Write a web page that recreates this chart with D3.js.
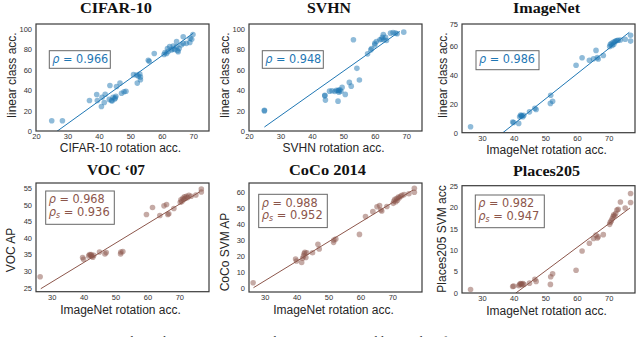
<!DOCTYPE html>
<html>
<head>
<meta charset="utf-8">
<script src="https://cdn.jsdelivr.net/npm/d3@7"></script>
<style>
	body { margin: 0; background: #fff; }
	svg { display: block; }
</style>
</head>
<body>
<svg id="fig" width="640" height="337"></svg>
<script>

// ---- data ----

// CIFAR-10: rotation acc. vs linear class acc.
var cifarRot = [25, 28.4, 37, 39.3, 39.5, 40.8, 41, 42, 41.7, 43.5, 43.3, 44, 44.5, 45, 45.4, 44.2, 45.2, 45.6,
	46.7, 47.2, 48, 48.6, 51, 52, 52.5, 53, 52.2, 53.2, 53.2, 55.7, 56, 57.6, 60.7, 61, 61.5, 61.8, 62.5, 63,
	63.6, 64.1, 64.7, 64.7, 65.2, 65.5, 66.2, 66.8, 66.8, 67.8, 68.9, 69, 69.5, 69.9, 62, 63.5, 65];
var cifarLin = [10, 10, 30, 35.8, 30, 24, 33, 36, 28, 44.7, 31, 30, 33, 31.5, 34, 29.5, 32.5, 43.7,
	47, 37, 38.5, 39, 55.3, 55, 54, 55.8, 47, 50.3, 53, 69.5, 68.5, 76, 75, 77, 76, 81, 82.8, 79.5,
	83.4, 80, 82.8, 87.7, 77.8, 81, 84.4, 86, 92.4, 86, 86.8, 91, 90, 94.7, 78, 80.5, 79];

// SVHN: rotation acc. vs linear class acc.
var svhnRot = [24.9, 24.9, 44.1, 44.1, 44.3, 45.6, 46.4, 47.3, 47.8, 48.3, 48.6, 48.9, 49.2, 48.5, 48.3, 49.6,
	50.6, 51.9, 52.5, 53.2, 54.3, 55.1, 57.7, 58.7, 59, 60, 60, 60.5, 61.6, 62.1, 62.4, 62.7, 62.9, 63.7,
	63.4, 65, 65.8, 66.6, 67.1, 69.2];
var svhnLin = [19.7, 20.3, 34.5, 35, 30.3, 39.1, 39.5, 38.8, 40, 39.5, 38, 40.5, 39, 40, 29.3, 42.8,
	35.9, 47.7, 44, 89.5, 61.5, 50, 75.7, 79.6, 81, 86, 84.5, 87.8, 89.5, 90, 92, 94.7, 89.5, 88.8,
	92, 96, 96.7, 96, 95.4, 97];

// ImageNet rotation acc. shared by the ImageNet panel and the bottom row
var imagenetRot = [26.4, 39.7, 40, 41.6, 41.9, 42.2, 42.4, 42.6, 42.9, 43.2, 45, 46.7, 47.1, 51.6, 51.7, 52.3,
	59.7, 61.6, 63.9, 65.2, 66, 66.4, 66.7, 68.3, 70.3, 70.5, 70.8, 71.1, 71.4, 71.6, 71.9, 72.2, 72.6,
	73, 73.7, 75.2, 76.9, 76.9];
var imagenetLin = [4.1, 7.4, 7, 6.4, 11, 12.2, 11.5, 11.8, 11, 12, 14.4, 16.8, 16, 20.2, 25.8, 21.7,
	46.5, 51.7, 50, 51, 56.8, 51.8, 50.8, 53.3, 59.5, 60.8, 61.5, 60.2, 62.3, 61, 62.8, 63.2, 63.6,
	63.8, 64, 64.5, 67.2, 63.2];
var vocAP = [28.3, 34.1, 33.6, 34.6, 35, 34.8, 35, 34.5, 34.2, 34.8, 35.8, 35.2, 35.6, 35.2, 35.8, 35.9,
	47.1, 49.2, 46.8, 49.7, 50.1, 47.1, 47.3, 48.9, 50.8, 51.5, 51, 52, 51.6, 52.4, 52, 52.6, 52.2,
	52.9, 52.6, 53, 54.8, 53.9];
var cocoAP = [3.1, 18, 16.8, 15.9, 18.5, 20, 21.5, 22.2, 19, 22, 22, 27.3, 24.3, 28.5, 30, 30.6,
	33.5, 44.7, 47.8, 50.9, 51.6, 48.8, 48.2, 51, 53, 54.5, 55.5, 54, 56, 55, 57, 56.5, 57.5,
	58, 58.5, 59, 62.5, 60];
var placesAcc = [0.8, 1.5, 1.6, 1.7, 2, 2.2, 2.1, 1.9, 2.2, 2, 2.3, 3.2, 2.7, 2, 3.8, 4.5,
	5.3, 9.8, 11.6, 12.7, 13.5, 12.8, 13.1, 13.6, 16, 16.5, 16.8, 17.3, 17.8, 18.2, 18, 18.5, 19.3,
	19.5, 21.2, 19.8, 23.2, 21.1];

// fitted lines, as two end points [x, y]
var cifarFit = [[25, -4], [70, 96]];
var svhnFit = [[24.9, 3.9], [67.9, 97.7]];
var imagenetFit = [[36.6, 0], [76.5, 69.3]];
var vocFit = [[26.6, 24.7], [76.5, 54]];
var cocoFit = [[26.5, 0], [76.5, 61.4]];
var placesFit = [[40.7, 0], [76.7, 19.8]];

// correlations printed in the boxes
var rho = [0.966, 0.948, 0.986, 0.968, 0.988, 0.982];
var rhoS = [null, null, null, 0.936, 0.952, 0.947];

// titles and axis labels
var titles = ["CIFAR-10", "SVHN", "ImageNet", "VOC \u201807", "CoCo 2014", "Places205"];
var xLabels = ["CIFAR-10 rotation acc.", "SVHN rotation acc.", "ImageNet rotation acc.",
	"ImageNet rotation acc.", "ImageNet rotation acc.", "ImageNet rotation acc."];
var yLabels = ["linear class acc.", "linear class acc.", "linear class acc.",
	"VOC AP", "CoCo SVM AP", "Places205 SVM acc"];

// tick values
var xTicksTop = [20, 30, 40, 50, 60, 70];
var xTicksImageNet = [30, 40, 50, 60, 70];
var yTicksClass = [0, 20, 40, 60, 80, 100];
var yTicksImageNet = [0, 20, 40, 60, 75];
var yTicksVoc = [25, 30, 35, 40, 45, 50, 55];
var yTicksCoco = [0, 10, 20, 30, 40, 50, 60];
var yTicksPlaces = [0, 5, 10, 15, 20, 25];

var caption = "Figure 2: Top row: Correlation between rotation prediction accuracy and linear classification accuracy on";

// ---- drawing ----

var blue = "#1f77b4", brown = "#8c564b";
var svg = d3.select("#fig");

function zip(xs, ys) {
	return xs.map(function(v, i) { return [v, ys[i]]; });
}

var panels = [
	{ xs: cifarRot, ys: cifarLin, fit: cifarFit, color: blue,
	  box: [36, 209, 24, 131], xd: [20, 75], yd: [0, 105], xt: xTicksTop, yt: yTicksClass,
	  titleX: 116, titleY: 13, titleW: 72, xlY: 151.5, ylX: 12, ylY: 75,
	  ann: [13.3, 26.7, 61, 17.6] },
	{ xs: svhnRot, ys: svhnLin, fit: svhnFit, color: blue,
	  box: [249, 422, 24, 131], xd: [20, 75], yd: [0, 105], xt: xTicksTop, yt: yTicksClass,
	  titleX: 329, titleY: 13, titleW: 44, xlY: 151.5, ylX: 225, ylY: 75,
	  ann: [13.3, 26.7, 61, 17.6] },
	{ xs: imagenetRot, ys: imagenetLin, fit: imagenetFit, color: blue,
	  box: [462, 635, 24, 132.7], xd: [23.7, 78.3], yd: [0, 75], xt: xTicksImageNet, yt: yTicksImageNet,
	  titleX: 546.5, titleY: 13, titleW: 67, xlY: 154, ylX: 442.5, ylY: 75,
	  ann: [14, 26.7, 63, 19] },
	{ xs: imagenetRot, ys: vocAP, fit: vocFit, color: brown,
	  box: [36, 209, 183, 291.7], xd: [25.1, 79.3], yd: [23.8, 56.6], xt: xTicksImageNet, yt: yTicksVoc,
	  titleX: 116, titleY: 175, titleW: 58, xlY: 314, ylX: 11, ylY: 250,
	  ann: [9.7, 8, 68.6, 33.3] },
	{ xs: imagenetRot, ys: cocoAP, fit: cocoFit, color: brown,
	  box: [249, 422, 183, 292], xd: [25.1, 79.3], yd: [-2.7, 65.8], xt: xTicksImageNet, yt: yTicksCoco,
	  titleX: 327.5, titleY: 175, titleW: 77, xlY: 314, ylX: 224.5, ylY: 252, 
	  ann: [9.7, 11.3, 68.6, 33.3] },
	{ xs: imagenetRot, ys: placesAcc, fit: placesFit, color: brown,
	  box: [462, 635, 185.7, 293], xd: [23.7, 78.3], yd: [0, 25], xt: xTicksImageNet, yt: yTicksPlaces,
	  titleX: 546.5, titleY: 175.5, titleW: 67, xlY: 314.5, ylX: 442, ylY: 239,
	  ann: [13.3, 9.3, 69, 32.7] }
];

panels.forEach(function(p, i) {

	var left = p.box[0], right = p.box[1], top = p.box[2], bottom = p.box[3];
	var x = d3.scaleLinear().domain(p.xd).range([left, right]);
	var y = d3.scaleLinear().domain(p.yd).range([bottom, top]);
	var g = svg.append("g");

	g.append("clipPath").attr("id", "clip" + i)
		.append("rect").attr("x", left).attr("y", top)
		.attr("width", right - left).attr("height", bottom - top);

	var plot = g.append("g").attr("clip-path", "url(#clip" + i + ")");

	plot.selectAll("circle").data(zip(p.xs, p.ys)).enter()
		.append("circle")
			.attr("cx", function(d) { return x(d[0]); })
			.attr("cy", function(d) { return y(d[1]); })
			.attr("r", 2.8)
			.style("fill", p.color)
			.style("fill-opacity", 0.5);

	plot.append("path")
		.attr("d", d3.line().x(function(d) { return x(d[0]); }).y(function(d) { return y(d[1]); })(p.fit))
		.style("fill", "none").style("stroke", p.color).style("stroke-width", 1);

	// axes, no tick marks (seaborn white look)
	var xa = g.append("g").attr("transform", "translate(0," + bottom + ")")
		.call(d3.axisBottom(x).tickValues(p.xt).tickSize(0).tickPadding(3).tickFormat(d3.format("d")));
	var ya = g.append("g").attr("transform", "translate(" + left + ",0)")
		.call(d3.axisLeft(y).tickValues(p.yt).tickSize(0).tickPadding(4).tickFormat(d3.format("d")));
	[xa, ya].forEach(function(a) {
		a.select(".domain").remove();
		a.selectAll("text").style("font-family", "'Liberation Sans', Arial, sans-serif")
			.style("font-size", "7.5px").style("fill", "#333");
	});

	g.append("rect").attr("x", left).attr("y", top)
		.attr("width", right - left).attr("height", bottom - top)
		.style("fill", "none").style("stroke", "#3a3a3a").style("stroke-width", 1.2);

	// title
	g.append("text").attr("x", p.titleX).attr("y", p.titleY)
		.attr("text-anchor", "middle")
		.attr("textLength", p.titleW).attr("lengthAdjust", "spacingAndGlyphs")
		.style("font-family", "'Liberation Serif', 'Times New Roman', serif")
		.style("font-weight", "bold").style("font-size", "14px").style("fill", "#111")
		.text(titles[i]);

	// axis labels
	g.append("text").attr("x", (left + right) / 2 - 2).attr("y", p.xlY)
		.attr("text-anchor", "middle")
		.style("font-family", "'Liberation Sans', Arial, sans-serif")
		.style("font-size", "12px").style("fill", "#262626")
		.text(xLabels[i]);

	g.append("text")
		.attr("transform", "translate(" + p.ylX + "," + p.ylY + ") rotate(-90)")
		.attr("text-anchor", "middle").attr("dy", "0.36em")
		.style("font-family", "'Liberation Sans', Arial, sans-serif")
		.style("font-size", "12px").style("fill", "#262626")
		.text(yLabels[i]);

	// correlation box
	var bx = left + p.ann[0], by = top + p.ann[1];
	g.append("rect").attr("x", bx).attr("y", by).attr("width", p.ann[2]).attr("height", p.ann[3])
		.style("fill", "#fff").style("stroke", "#666").style("stroke-width", 1);

	var font = "'DejaVu Sans', sans-serif";
	var t1 = g.append("text").attr("x", bx + 3).attr("y", by + 12.4)
		.attr("textLength", 56).attr("lengthAdjust", "spacingAndGlyphs")
		.style("font-family", font).style("font-size", "12.5px").style("fill", p.color);
	t1.append("tspan").style("font-style", "italic").text("\u03c1");
	t1.append("tspan").text(" = " + rho[i].toFixed(3));

	if (rhoS[i] !== null) {
		var t2 = g.append("text").attr("x", bx + 3).attr("y", by + 24.6)
			.attr("textLength", 61).attr("lengthAdjust", "spacingAndGlyphs")
			.style("font-family", font).style("font-size", "12.5px").style("fill", p.color);
		t2.append("tspan").style("font-style", "italic").text("\u03c1");
		t2.append("tspan").attr("dy", 2.5).style("font-size", "8.5px").style("font-style", "italic").text("s");
		t2.append("tspan").attr("dy", -2.5).text(" = " + rhoS[i].toFixed(3));
	}
});

// caption line, mostly cut off by the bottom edge
svg.append("text").attr("x", 0).attr("y", 345)
	.style("font-family", "'Liberation Serif', 'Times New Roman', serif")
	.style("font-size", "13px").style("fill", "#333")
	.text(caption);

</script>
</body>
</html>
